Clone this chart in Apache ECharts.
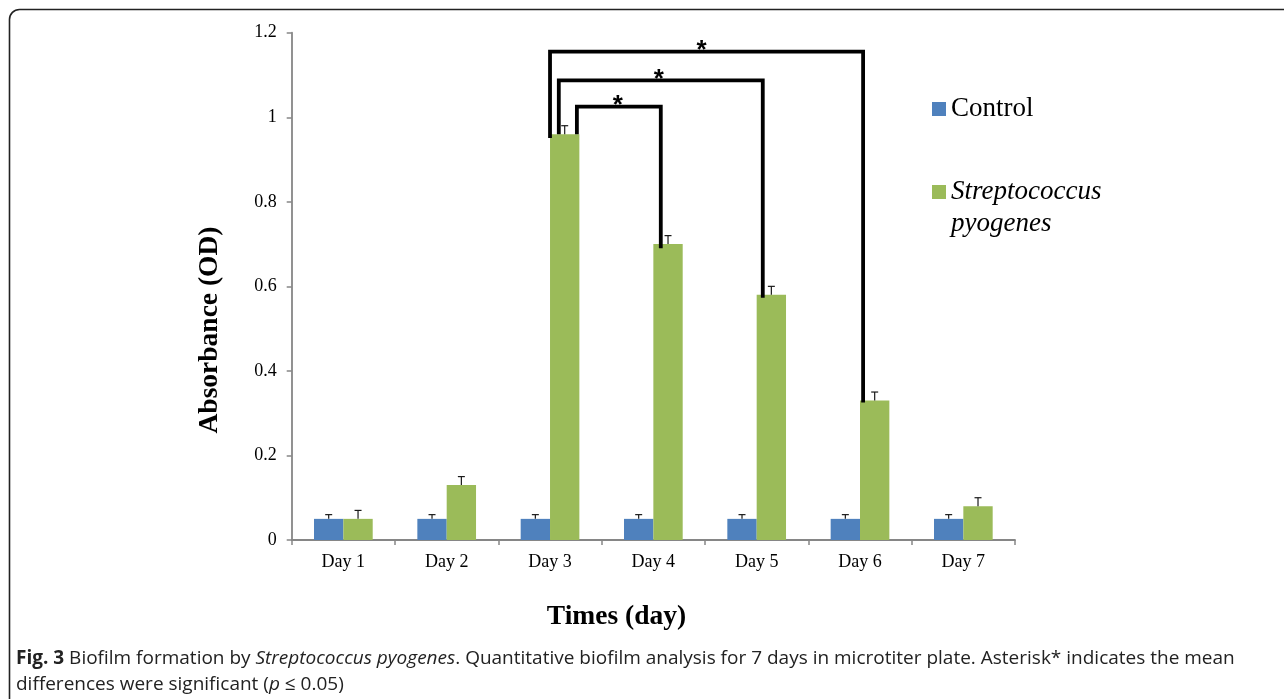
<!DOCTYPE html>
<html><head><meta charset="utf-8">
<script src="https://cdn.jsdelivr.net/npm/echarts@6/dist/echarts.min.js"></script>
<style>html,body{margin:0;padding:0;background:#fff}#c{width:1284px;height:699px}</style>
</head><body><div id="c"></div>
<script>
// ---- data ----
const categories = ['Day 1', 'Day 2', 'Day 3', 'Day 4', 'Day 5', 'Day 6', 'Day 7'];
const controlValues = [0.05, 0.05, 0.05, 0.05, 0.05, 0.05, 0.05];
const controlErrors = [0.01, 0.01, 0.01, 0.01, 0.01, 0.01, 0.01];
const pyogenesValues = [0.05, 0.13, 0.96, 0.70, 0.58, 0.33, 0.08];
const pyogenesErrors = [0.02, 0.02, 0.02, 0.02, 0.02, 0.02, 0.02];
const yTicks = [0, 0.2, 0.4, 0.6, 0.8, 1, 1.2];
// significance brackets: [from day index, to day index, left end value, right end value, top value]
const brackets = [
  [2, 3, 0.96, 0.69, 1.025],
  [2, 4, 0.96, 0.573, 1.087],
  [2, 5, 0.951, 0.325, 1.155]
];

// ---- styling ----
const SERIF = '"Liberation Serif", "Times New Roman", serif';
const SANS = '"Open Sans", sans-serif';
const BAR_W = 0.284;                       // fraction of band
const bracketOffsets = [[0.26, 0.072], [0.085, 0.059], [0.0, 0.03]]; // fraction of band
const starShift = [-1, -2, -5];            // px
const BLUE = '#4F81BD', GREEN = '#9BBB59', AXIS = '#868686';

const chart = echarts.init(document.getElementById('c'), null, {renderer: 'canvas'});

function errorRender(sign, errs) {
  return function (params, api) {
    const i = api.value(0), v = api.value(1), e = errs[params.dataIndex];
    const band = api.size([1, 0])[0];
    const base = api.coord([i, v]);
    const top = api.coord([i, v + e]);
    const x = base[0] + sign * band * BAR_W / 2;
    return {
      type: 'group',
      children: [
        {type: 'line', shape: {x1: x, y1: base[1], x2: x, y2: top[1]}, style: {stroke: '#1a1a1a', lineWidth: 1.2}},
        {type: 'line', shape: {x1: x - 3.5, y1: top[1], x2: x + 3.5, y2: top[1]}, style: {stroke: '#1a1a1a', lineWidth: 1.2}}
      ]
    };
  };
}

function bracketRender(params, api) {
  const k = params.dataIndex;
  const band = api.size([1, 0])[0];
  const a = api.coord([api.value(0), api.value(2)]);
  const b = api.coord([api.value(1), api.value(3)]);
  const t = api.coord([api.value(0), api.value(4)]);
  const x1 = a[0] + bracketOffsets[k][0] * band;
  const x2 = b[0] + bracketOffsets[k][1] * band;
  const yt = t[1];
  return {
    type: 'group',
    children: [
      {type: 'polyline', shape: {points: [[x1, a[1]], [x1, yt], [x2, yt], [x2, b[1]]]},
        style: {stroke: '#000', lineWidth: 3.8, fill: null, lineJoin: 'miter'}},
      {type: 'text', x: (x1 + x2) / 2 + starShift[k], y: yt + 12,
        style: {text: '*', fill: '#000', font: 'bold 26px "Liberation Sans", Arial, sans-serif', textAlign: 'center', textVerticalAlign: 'bottom'}}
    ]
  };
}

const option = {
  animation: false,
  backgroundColor: '#fff',
  grid: {left: 291.7, top: 32.7, right: 1284 - 1015, bottom: 699 - 540, containLabel: false},
  xAxis: {
    type: 'category',
    data: categories,
    axisLine: {lineStyle: {color: AXIS, width: 1.8}},
    axisTick: {show: true, length: 5, lineStyle: {color: AXIS, width: 1.5}},
    axisLabel: {color: '#000', fontFamily: SERIF, fontSize: 18, margin: 13}
  },
  yAxis: {
    type: 'value', min: 0, max: 1.2, interval: 0.2,
    axisLine: {show: true, lineStyle: {color: AXIS, width: 1.8}},
    axisTick: {show: true, length: 5, lineStyle: {color: AXIS, width: 1.5}},
    splitLine: {show: false},
    axisLabel: {color: '#000', fontFamily: SERIF, fontSize: 18, margin: 15,
      formatter: v => { const m = yTicks.find(t => Math.abs(t - v) < 1e-9); return String(m); }}
  },
  legend: {
    data: ['Control', 'Streptococcus pyogenes'],
    orient: 'vertical', left: 932, top: 93, itemGap: 19, padding: 0,
    itemWidth: 14, itemHeight: 14, icon: 'rect',
    selectedMode: false,
    textStyle: {color: '#000', fontFamily: SERIF, fontSize: 27, lineHeight: 32,
      rich: {
        e: {fontFamily: SERIF, fontSize: 27, lineHeight: 32},
        i: {fontFamily: SERIF, fontSize: 27, lineHeight: 32, fontStyle: 'italic', color: '#000'}
      }},
    formatter: name => name === 'Control' ? 'Control' : '{e| }\n{i|Streptococcus}\n{i|pyogenes}'
  },
  series: [
    {name: 'Control', type: 'bar', data: controlValues, barWidth: (BAR_W * 100) + '%', barGap: '0%',
      itemStyle: {color: BLUE}},
    {name: 'Streptococcus pyogenes', type: 'bar', data: pyogenesValues, barWidth: (BAR_W * 100) + '%', barGap: '0%',
      itemStyle: {color: GREEN}},
    {name: 'errControl', type: 'custom', renderItem: errorRender(-1, controlErrors),
      data: controlValues.map((v, i) => [i, v]), encode: {x: 0, y: 1}, z: 5},
    {name: 'errPyogenes', type: 'custom', renderItem: errorRender(1, pyogenesErrors),
      data: pyogenesValues.map((v, i) => [i, v]), encode: {x: 0, y: 1}, z: 5},
    {name: 'brackets', type: 'custom', renderItem: bracketRender, data: brackets,
      encode: {x: 0, y: 4}, z: 6, clip: false}
  ],
  graphic: [
    {type: 'rect', shape: {x: 9.5, y: 9.5, width: 1400, height: 800, r: 10},
      style: {fill: null, stroke: '#222', lineWidth: 1.6}, z: -1, silent: true},
    {type: 'text', x: 210, y: 330, rotation: Math.PI / 2,
      style: {text: 'Absorbance (OD)', fill: '#000', font: 'bold 27.5px ' + SERIF, textAlign: 'center', textVerticalAlign: 'middle'}},
    {type: 'text', x: 616.5, y: 617,
      style: {text: 'Times (day)', fill: '#000', font: 'bold 27.5px ' + SERIF, textAlign: 'center', textVerticalAlign: 'middle'}},
    {type: 'text', left: 16, top: 646,
      style: {
        text: '{b|Fig. 3} Biofilm formation by {i|Streptococcus pyogenes}. Quantitative biofilm analysis for 7 days in microtiter plate. Asterisk* indicates the mean\ndifferences were significant ({i|p} ≤ 0.05)',
        fill: '#222', fontFamily: SANS, fontSize: 19, lineHeight: 26,
        rich: {
          b: {fontWeight: 'bold', fontFamily: SANS, fontSize: 19, fill: '#222', lineHeight: 26},
          i: {fontStyle: 'italic', fontFamily: SANS, fontSize: 19, fill: '#222', lineHeight: 26}
        }
      }}
  ]
};
chart.setOption(option);
</script>
</body></html>
